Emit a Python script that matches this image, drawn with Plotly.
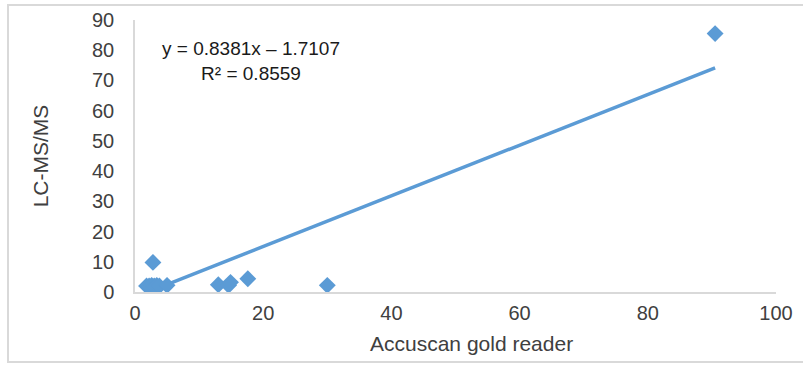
import plotly.graph_objects as go

# Data
accuscan = [1.8, 2.2, 2.6, 3.0, 3.4, 3.8, 2.8, 5.0, 13.0, 14.6, 14.9, 17.6, 30.0, 90.5]
lcmsms = [2.0, 2.0, 2.2, 2.0, 2.2, 2.0, 9.8, 2.2, 2.4, 2.2, 3.2, 4.4, 2.2, 85.5]
slope = 0.8381
intercept = -1.7107
r_squared = 0.8559
x_ticks = [0, 20, 40, 60, 80, 100]
y_ticks = [0, 10, 20, 30, 40, 50, 60, 70, 80, 90]

blue = "#5B9BD5"
txt = "#404040"
FONT = "Liberation Sans, Arial"

x_line = [min(accuscan), max(accuscan)]
y_line = [slope * v + intercept for v in x_line]

fig = go.Figure()
fig.add_trace(go.Scatter(x=x_line, y=y_line, mode="lines",
                         line=dict(color=blue, width=3.5), hoverinfo="skip"))
fig.add_trace(go.Scatter(x=accuscan, y=lcmsms, mode="markers",
                         marker=dict(symbol="diamond", size=13, color=blue)))

W, H = 803, 365
L, R, T, B = 135, 27, 20, 73
pw, ph = W - L - R, H - T - B

fig.add_annotation(x=(160 - L) / pw, y=1 - (61 - T) / ph, xref="paper", yref="paper",
                   text=f"y = {slope}x – {abs(intercept)}<br>R² = {r_squared}",
                   showarrow=False, xanchor="left", yanchor="middle", align="center",
                   font=dict(family=FONT, size=19, color="#1a1a1a"))

# x-axis title (slightly right of plot centre, as in the reference)
fig.add_annotation(x=(471 - L) / pw, y=1 - (343 - T) / ph, xref="paper", yref="paper",
                   text="Accuscan gold reader", showarrow=False,
                   xanchor="center", yanchor="middle",
                   font=dict(family=FONT, size=21, color=txt))

fig.add_shape(type="rect", xref="paper", yref="paper",
              x0=(8 - L) / pw, x1=(810 - L) / pw,
              y0=1 - (362 - T) / ph, y1=1 - (5 - T) / ph,
              line=dict(color="#D9D9D9", width=2), fillcolor="rgba(0,0,0,0)", layer="below")

fig.update_layout(
    width=W, height=H, margin=dict(l=L, r=R, t=T, b=B, autoexpand=False),
    paper_bgcolor="white", plot_bgcolor="white", showlegend=False,
    font=dict(family=FONT, size=19, color=txt),
    xaxis=dict(range=[0, 100], tickvals=x_ticks, showgrid=False, zeroline=False,
               showline=True, linecolor="#D9D9D9", linewidth=1.5,
               ticks="outside", ticklen=2, tickcolor="rgba(0,0,0,0)", automargin=False,
               tickfont=dict(size=20, color=txt)),
    yaxis=dict(range=[0, 90], tickvals=y_ticks, showgrid=False, zeroline=False,
               showline=True, linecolor="#D9D9D9", linewidth=1.5,
               ticks="outside", ticklen=15, tickcolor="rgba(0,0,0,0)", automargin=False,
               title=dict(text="LC-MS/MS", standoff=38,
                          font=dict(size=21, color=txt)),
               tickfont=dict(size=20, color=txt)),
)

fig.write_html("out.html", config={"displayModeBar": False},
               post_script="document.body.style.margin='0';")
